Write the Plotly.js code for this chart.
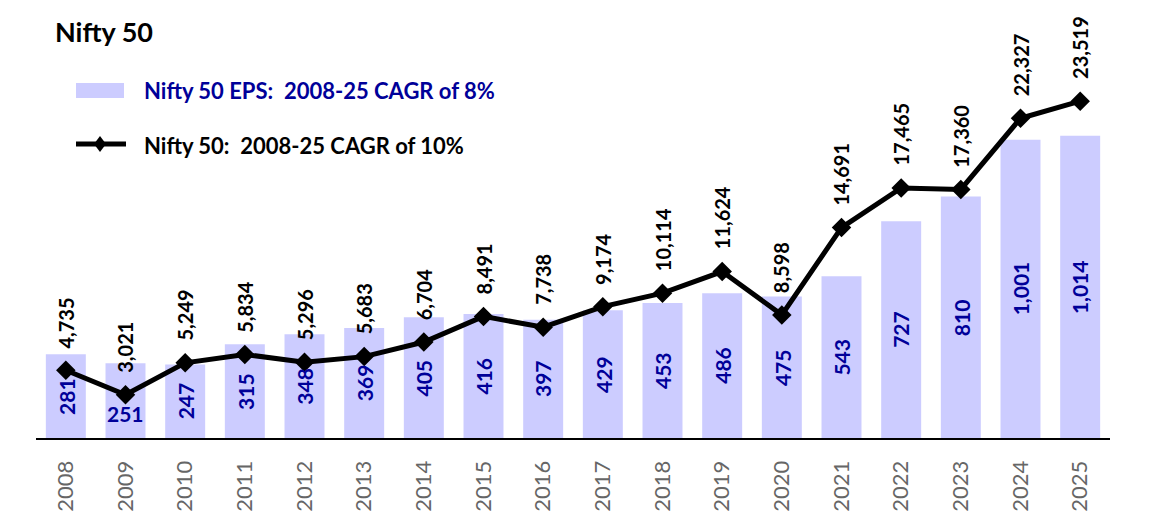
<!DOCTYPE html>
<html>
<head>
<meta charset="utf-8">
<script src="https://cdn.plot.ly/plotly-3.0.1.min.js"></script>
<style>html,body{margin:0;padding:0;background:#fff;}#chart{width:1160px;height:524px;}</style>
</head>
<body>
<div id="chart"></div>
<script>
// ---- data ----
const years = ["2008","2009","2010","2011","2012","2013","2014","2015","2016","2017","2018","2019","2020","2021","2022","2023","2024","2025"];
const epsValues = [281,251,247,315,348,369,405,416,397,429,453,486,475,543,727,810,1001,1014];
const niftyValues = [4735,3021,5249,5834,5296,5683,6704,8491,7738,9174,10114,11624,8598,14691,17465,17360,22327,23519];
const titleText = "Nifty 50";
const epsLegend = "Nifty 50 EPS:  2008-25 CAGR of 8%";
const niftyLegend = "Nifty 50:  2008-25 CAGR of 10%";

// ---- layout geometry ----
const W = 1160, H = 524;
const M = {l: 36, r: 50, t: 20, b: 86};
const PW = W - M.l - M.r, PH = H - M.t - M.b;
const px = x => (x - M.l) / PW;
const py = y => (H - M.b - y) / PH;

const FONT = "Lato, 'Open Sans', 'Noto Sans', sans-serif";
const fmt = v => v.toLocaleString('en-US');

const bars = {
  type: 'bar', x: years, y: epsValues, yaxis: 'y',
  marker: {color: '#CCCCFF'}, hoverinfo: 'x+y', showlegend: false
};
const line = {
  type: 'scatter', mode: 'lines+markers', x: years, y: niftyValues, yaxis: 'y2',
  line: {color: '#000000', width: 5},
  marker: {symbol: 'diamond', size: 15, color: '#000000'},
  cliponaxis: false, showlegend: false
};

const annotations = [];
years.forEach((yr, i) => {
  const horiz = (yr === "2009");
  annotations.push({
    x: i, y: horiz ? epsValues[i] * 0.33 : epsValues[i] / 2, xref: 'x', yref: 'y',
    text: '<b>' + fmt(epsValues[i]) + '</b>', showarrow: false, textangle: horiz ? 0 : -90,
    xanchor: 'center', yanchor: 'middle',
    font: {family: FONT, size: 21, color: '#000099'}
  });
  annotations.push({
    x: i, y: niftyValues[i], xref: 'x', yref: 'y2',
    text: '<b>' + fmt(niftyValues[i]) + '</b>', showarrow: false, textangle: -90,
    xanchor: 'center', yanchor: 'bottom', yshift: 20,
    font: {family: FONT, size: 20, color: '#000000'}
  });
});
// legend texts
annotations.push({
  x: px(142), y: py(90), xref: 'paper', yref: 'paper', xanchor: 'left', yanchor: 'middle',
  text: '<b>' + epsLegend + '</b>', showarrow: false,
  font: {family: FONT, size: 22, color: '#000099'}
});
annotations.push({
  x: px(142), y: py(145), xref: 'paper', yref: 'paper', xanchor: 'left', yanchor: 'middle',
  text: '<b>' + niftyLegend + '</b>', showarrow: false,
  font: {family: FONT, size: 22, color: '#000000'}
});

const cx = px(100), cy = py(144);
const dx = 6 / PW, dy = 8 / PH;
const shapes = [
  {type: 'rect', xref: 'paper', yref: 'paper', x0: px(76), x1: px(124), y0: py(98), y1: py(83),
   fillcolor: '#CCCCFF', line: {width: 0}},
  {type: 'line', xref: 'paper', yref: 'paper', x0: px(76), x1: px(126), y0: cy, y1: cy,
   line: {color: '#000000', width: 5}},
  {type: 'path', xref: 'paper', yref: 'paper',
   path: `M ${cx - dx} ${cy} L ${cx} ${cy + dy} L ${cx + dx} ${cy} L ${cx} ${cy - dy} Z`,
   fillcolor: '#000000', line: {width: 0}}
];

const layout = {
  width: W, height: H, autosize: false,
  margin: M,
  paper_bgcolor: '#ffffff', plot_bgcolor: '#ffffff',
  font: {family: FONT},
  title: {text: '<b>' + titleText + '</b>', x: 55 / W, xanchor: 'left', xref: 'container',
          y: 1 - 33 / H, yanchor: 'middle', yref: 'container',
          font: {family: FONT, size: 27, color: '#000000'}},
  bargap: 0.33,
  xaxis: {type: 'category', range: [-0.5, 17.5], showline: true, linecolor: '#000000', linewidth: 2,
          ticks: '', tickangle: -90, ticklabelstandoff: 12,
          tickfont: {family: FONT, size: 22, color: '#666666'}, showgrid: false, zeroline: false, fixedrange: true},
  yaxis: {range: [0, PH / 0.298], visible: false, showgrid: false, zeroline: false},
  yaxis2: {range: [0, PH / 0.01432], overlaying: 'y', visible: false, showgrid: false, zeroline: false},
  showlegend: false,
  annotations: annotations,
  shapes: shapes
};

Plotly.newPlot('chart', [bars, line], layout, {displayModeBar: false, staticPlot: true});
</script>
</body>
</html>
